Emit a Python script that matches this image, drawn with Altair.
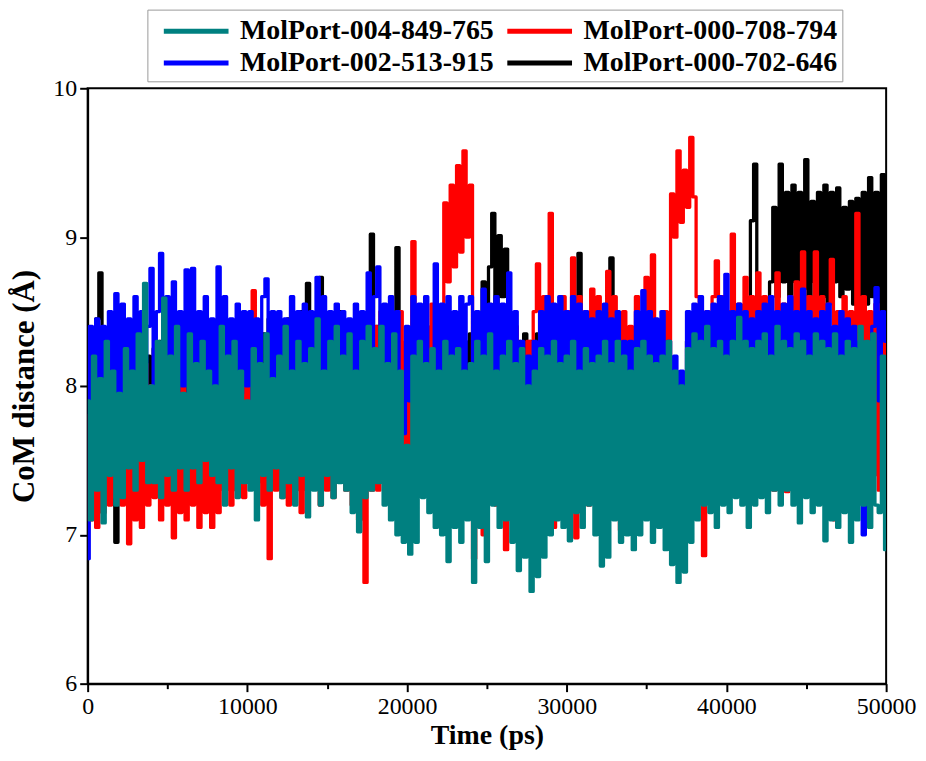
import altair as alt
import pandas as pd

# ---------------- data ----------------
time_ps = list(range(0, 50001, 200))

series_names = ["MolPort-004-849-765", "MolPort-000-708-794",
                "MolPort-002-513-915", "MolPort-000-702-646"]
series_colors = ["#008080", "#ff0000", "#0000ff", "#000000"]

teal = [
    7.9, 7.1, 8.2, 7.3, 8.05, 7.08, 8.3, 7.4, 8.1, 7.2,
    7.95, 7.25, 8.25, 7.45, 8.1, 7.3, 8.35, 7.5, 8.69, 7.35,
    8.0, 7.35, 8.3, 7.25, 8.59, 7.4, 8.2, 7.3, 8.4, 7.45,
    7.95, 7.3, 8.35, 7.45, 8.15, 7.35, 8.3, 7.5, 8.1, 7.4,
    8.0, 7.35, 8.4, 7.2, 8.2, 7.45, 8.3, 7.25, 8.1, 7.35,
    7.9, 7.3, 8.25, 7.1, 8.15, 7.4, 8.35, 7.3, 8.05, 7.45,
    8.2, 7.25, 8.4, 7.35, 8.1, 7.2, 8.3, 7.4, 8.15, 7.12,
    8.25, 7.3, 8.45, 7.2, 8.1, 7.4, 8.3, 7.25, 8.4, 7.35,
    8.2, 7.3, 8.35, 7.15, 8.1, 7.02, 8.3, 7.25, 8.4, 7.3,
    8.25, 7.35, 8.4, 7.2, 8.15, 7.1, 8.35, 7.0, 8.1, 6.95,
    7.6, 6.87, 8.2, 6.95, 8.3, 7.25, 8.15, 7.15, 8.25, 7.05,
    8.1, 7.0, 8.3, 6.82, 8.2, 7.05, 8.25, 6.95, 8.1, 7.1,
    8.15, 6.68, 8.3, 7.05, 8.2, 6.82, 8.35, 7.2, 8.1, 7.05,
    8.2, 7.1, 8.3, 6.95, 8.15, 6.76, 8.25, 6.85, 8.0, 6.62,
    8.1, 6.72, 8.25, 6.85, 8.2, 7.0, 8.3, 7.1, 8.15, 7.05,
    8.2, 6.96, 8.3, 7.15, 8.1, 7.05, 8.25, 7.2, 8.15, 7.0,
    8.2, 6.79, 8.3, 6.85, 8.15, 7.1, 8.3, 6.95, 8.2, 7.0,
    8.1, 6.9, 8.25, 7.0, 8.3, 7.1, 8.2, 6.95, 8.15, 7.05,
    8.2, 6.9, 8.3, 6.8, 8.1, 6.68, 8.0, 6.75, 8.25, 6.95,
    8.35, 7.1, 8.3, 7.2, 8.4, 7.15, 8.25, 7.05, 8.3, 7.2,
    8.2, 7.15, 8.3, 7.25, 8.46, 7.2, 8.3, 7.05, 8.25, 7.2,
    8.3, 7.25, 8.35, 7.15, 8.2, 7.3, 8.4, 7.2, 8.3, 7.3,
    8.25, 7.2, 8.35, 7.08, 8.3, 7.25, 8.2, 7.15, 8.35, 7.2,
    8.3, 6.96, 8.25, 7.1, 8.35, 7.05, 8.2, 7.15, 8.3, 6.95,
    8.25, 7.1, 8.4, 7.2, 8.3, 7.05, 8.35, 7.2, 7.15, 8.2,
    6.9,
]

red = [
    7.8, 7.1, 8.1, 7.05, 7.9, 7.15, 8.2, 7.2, 7.95, 7.25,
    8.1, 7.2, 8.0, 6.94, 8.2, 7.1, 7.9, 7.05, 8.15, 7.2,
    8.0, 7.25, 8.2, 7.1, 7.95, 7.2, 8.1, 6.98, 8.05, 7.15,
    8.2, 7.1, 7.9, 7.2, 8.1, 7.05, 8.0, 7.15, 8.2, 7.05,
    7.95, 7.15, 8.15, 7.3, 8.0, 7.2, 8.25, 7.3, 8.1, 7.25,
    8.2, 7.4, 8.64, 7.35, 8.1, 7.2, 8.0, 6.84, 8.15, 7.3,
    8.2, 7.25, 8.3, 7.2, 8.1, 7.3, 8.45, 7.15, 8.2, 7.3,
    8.3, 7.35, 8.5, 7.2, 8.2, 7.3, 8.35, 7.25, 8.1, 7.4,
    8.2, 7.3, 8.4, 7.2, 8.3, 7.1, 7.3, 6.68, 8.2, 7.3,
    8.4, 7.3, 8.5, 7.4, 8.3, 7.25, 8.45, 7.35, 8.5, 7.4,
    8.3, 7.5, 8.97, 7.6, 8.5, 7.4, 8.4, 7.5, 8.55, 7.6,
    8.4, 7.6, 9.23, 8.7, 9.35, 8.8, 9.48, 8.9, 9.58, 9.0,
    9.35, 6.84, 8.3, 7.1, 7.0, 8.4, 7.3, 8.2, 7.2, 8.5,
    7.9, 6.9, 8.3, 7.2, 8.4, 7.3, 8.2, 7.2, 8.3, 7.15,
    8.5, 8.82, 7.4, 8.6, 7.3, 9.16, 7.05, 8.5, 7.3, 8.6,
    7.4, 8.5, 8.86, 6.98, 8.6, 7.3, 8.5, 7.2, 8.65, 7.3,
    8.6, 7.3, 8.5, 8.77, 7.4, 8.6, 7.2, 7.03, 8.5, 7.3,
    8.4, 7.3, 8.6, 7.4, 7.5, 8.73, 7.3, 8.88, 7.4, 7.1,
    7.1, 8.5, 7.8, 9.29, 9.0, 9.58, 9.1, 9.45, 9.2, 9.67,
    9.27, 8.6, 7.5, 6.86, 8.5, 7.3, 8.6, 8.84, 7.4, 8.6,
    7.4, 8.5, 9.02, 7.35, 8.55, 7.4, 8.73, 7.3, 8.6, 7.4,
    8.76, 7.35, 8.6, 7.4, 8.5, 7.3, 8.76, 7.45, 8.55, 7.29,
    8.6, 7.4, 8.7, 7.35, 8.9, 7.5, 8.6, 7.4, 8.9, 7.3,
    8.6, 7.4, 8.55, 8.85, 7.1, 8.5, 7.35, 8.6, 7.3, 8.5,
    7.4, 9.16, 7.35, 8.6, 7.3, 8.5, 7.4, 8.55, 7.3, 8.4,
    8.0,
]

blue = [
    6.84, 8.4, 7.8, 8.45, 7.9, 8.4, 7.85, 8.5, 7.95, 8.62,
    7.9, 8.55, 7.85, 8.45, 8.0, 8.6, 7.9, 8.5, 7.95, 8.4,
    8.79, 7.9, 8.5, 8.89, 7.95, 8.6, 7.85, 8.7, 7.95, 8.5,
    8.0, 8.78, 7.9, 8.79, 7.95, 8.5, 7.85, 8.6, 7.9, 8.45,
    7.95, 8.8, 7.85, 8.6, 7.9, 8.45, 7.8, 8.55, 7.95, 8.5,
    8.0, 8.5, 7.9, 8.45, 7.85, 8.6, 8.72, 7.9, 8.5, 7.95,
    8.5, 7.9, 8.45, 7.85, 8.6, 7.95, 8.5, 7.9, 8.55, 7.85,
    8.5, 7.9, 8.73, 7.95, 8.6, 7.85, 8.5, 7.9, 8.55, 7.95,
    8.5, 7.85, 8.45, 7.9, 8.55, 7.95, 8.5, 7.9, 8.76, 7.95,
    8.6, 8.8, 7.9, 8.55, 7.95, 8.6, 7.85, 8.5, 7.9, 7.68,
    8.4, 7.9, 8.6, 7.95, 8.55, 7.85, 8.6, 7.9, 7.95, 8.82,
    7.9, 8.55, 7.95, 8.6, 7.76, 8.5, 7.9, 8.6, 7.95, 8.55,
    8.6, 7.9, 8.5, 7.95, 8.65, 7.85, 8.55, 7.9, 8.6, 7.95,
    8.55, 7.9, 8.76, 7.95, 8.5, 7.7, 8.3, 7.57, 8.2, 7.6,
    8.3, 7.57, 8.5, 7.85, 8.6, 7.9, 8.55, 7.95, 8.6, 7.9,
    8.5, 7.9, 8.6, 7.85, 8.55, 7.95, 8.5, 7.9, 8.45, 7.85,
    8.5, 7.9, 8.55, 7.95, 8.45, 7.85, 8.5, 7.8, 8.3, 7.59,
    8.3, 7.85, 8.5, 7.9, 8.64, 7.95, 8.5, 7.85, 8.45, 7.9,
    8.5, 7.9, 8.3, 7.7, 8.2, 7.7, 8.1, 7.75, 8.5, 7.9,
    8.55, 7.95, 8.6, 7.9, 8.5, 7.85, 8.55, 7.9, 8.6, 7.95,
    8.75, 7.9, 8.5, 7.95, 8.55, 7.85, 8.5, 7.9, 8.45, 7.95,
    8.5, 7.9, 8.55, 7.85, 8.6, 7.95, 8.5, 7.9, 8.55, 7.85,
    8.6, 7.9, 8.5, 7.95, 8.65, 7.85, 8.5, 7.9, 8.45, 7.95,
    8.5, 7.9, 8.55, 7.85, 8.4, 7.8, 8.5, 7.9, 8.45, 7.85,
    8.4, 7.8, 8.3, 7.0, 8.2, 7.26, 8.4, 8.66, 7.9, 8.5,
    8.3,
]

black = [
    7.9, 8.3, 7.5, 8.45, 8.76, 7.4, 8.2, 7.3, 8.1, 6.95,
    7.5, 8.25, 7.4, 8.3, 7.5, 8.15, 7.35, 8.3, 7.5, 8.2,
    7.45, 8.25, 7.5, 8.3, 7.4, 8.2, 7.5, 8.15, 7.45, 8.3,
    7.5, 8.35, 7.4, 8.2, 7.5, 8.3, 7.35, 8.25, 7.45, 8.3,
    7.5, 8.3, 7.45, 8.2, 7.5, 8.25, 7.4, 8.35, 7.5, 8.2,
    7.45, 8.3, 7.5, 8.25, 7.4, 8.35, 7.5, 8.45, 7.45, 8.3,
    7.5, 8.35, 7.4, 8.45, 7.5, 8.3, 7.45, 8.5, 7.5, 8.69,
    7.45, 8.4, 7.5, 8.73, 7.4, 8.35, 7.5, 8.45, 7.45, 8.5,
    7.5, 8.4, 7.4, 8.3, 7.5, 8.45, 7.45, 8.35, 7.5, 9.02,
    7.45, 8.4, 7.5, 8.3, 7.4, 8.45, 7.5, 8.93, 7.45, 7.37,
    8.3, 7.5, 8.4, 7.45, 8.35, 7.4, 8.3, 7.5, 8.4, 7.45,
    8.35, 7.4, 8.3, 7.5, 8.4, 7.45, 8.35, 7.5, 8.3, 7.4,
    8.35, 7.5, 8.45, 7.45, 8.7, 8.2, 8.8, 9.16, 8.5, 9.01,
    8.6, 8.92, 7.9, 8.4, 7.45, 8.3, 7.5, 8.35, 7.4, 8.3,
    7.5, 8.35, 7.45, 8.3, 7.4, 8.4, 7.5, 8.3, 7.45, 8.35,
    7.5, 8.4, 7.45, 8.35, 8.89, 7.5, 8.3, 7.4, 8.35, 7.45,
    8.3, 7.5, 8.4, 7.45, 8.86, 7.4, 8.35, 7.45, 8.3, 7.5,
    8.35, 7.45, 8.3, 7.4, 8.35, 7.5, 8.3, 7.45, 8.4, 7.4,
    8.3, 7.5, 8.2, 7.59, 7.9, 7.59, 8.0, 7.6, 8.3, 7.5,
    8.35, 7.45, 8.3, 7.4, 8.35, 7.5, 8.3, 7.45, 8.4, 7.4,
    8.3, 7.32, 8.25, 7.45, 8.35, 7.5, 8.3, 7.8, 9.11, 9.49,
    8.6, 8.2, 8.5, 8.3, 8.7, 9.2, 8.6, 9.49, 8.7, 9.3,
    8.6, 9.35, 8.7, 9.3, 8.65, 9.52, 8.6, 9.24, 8.7, 9.3,
    8.6, 9.35, 8.55, 9.3, 8.7, 9.33, 8.6, 9.2, 8.65, 9.24,
    8.55, 9.26, 8.6, 9.3, 8.55, 9.4, 8.6, 9.3, 8.5, 9.42,
    8.5,
]

# drawing order: black at the bottom, teal on top
draw_order = [
    (series_names[3], black),
    (series_names[1], red),
    (series_names[2], blue),
    (series_names[0], teal),
]

SERIF = "Liberation Serif"

x_enc = alt.X(
    "time:Q",
    title="Time (ps)",
    scale=alt.Scale(domain=[0, 50000], nice=False, zero=False),
    axis=alt.Axis(
        values=list(range(0, 50001, 5000)),
        format="d",
        labelExpr="datum.value % 10000 === 0 ? datum.label : ''",
        tickSize={"condition": {"test": "datum.value % 10000 === 0", "value": 8}, "value": 5},
        labelFlush=False,
        labelOverlap=False,
        labelPadding=3,
        titlePadding=3,
        titleFontSize=28,
    ),
)
y_enc = alt.Y(
    "dist:Q",
    title="CoM distance (Å)",
    scale=alt.Scale(domain=[6, 10], nice=False, zero=False),
    axis=alt.Axis(
        values=[6, 6.5, 7, 7.5, 8, 8.5, 9, 9.5, 10],
        format="d",
        labelExpr="datum.value % 1 === 0 ? datum.label : ''",
        tickSize={"condition": {"test": "datum.value % 1 === 0", "value": 8}, "value": 5},
        labelFlush=False,
        labelOverlap=False,
        labelPadding=3,
        titlePadding=12,
        titleFontSize=31,
    ),
)
color_enc = alt.Color(
    "series:N",
    title=None,
    scale=alt.Scale(domain=series_names, range=series_colors),
    legend=alt.Legend(
        orient="none",
        legendX=60,
        legendY=-79,
        direction="horizontal",
        columns=2,
        symbolType="M-0.333,0H4",
        symbolSize=900,
        symbolStrokeWidth=5,
        labelFont=SERIF,
        labelFontSize=28,
        labelFontWeight="bold",
        labelColor="black",
        labelLimit=500,
        labelOffset=54,
        columnPadding=-8,
        rowPadding=-2,
        padding=4,
        strokeColor="#999999",
        fillColor="white",
    ),
)

layers = []
for name, vals in draw_order:
    df = pd.DataFrame({"time": time_ps, "dist": vals, "series": name})
    layers.append(
        alt.Chart(df)
        .mark_line(strokeWidth=3.3, interpolate="step", strokeJoin="round", clip=True)
        .encode(x=x_enc, y=y_enc, color=color_enc)
    )

chart = (
    alt.layer(*layers)
    .properties(
        width=802,
        height=598,
        autosize=alt.AutoSizeParams(type="none"),
        padding={"left": 80, "top": 79, "right": 32, "bottom": 66},
        background="white",
    )
    .configure_view(stroke="black", strokeWidth=2)
    .configure_axis(
        grid=False,
        domainColor="black",
        domainWidth=2,
        tickColor="black",
        tickWidth=2,
        labelFont=SERIF,
        labelFontSize=24,
        labelColor="black",
        titleFont=SERIF,
        titleFontWeight="bold",
        titleColor="black",
    )
)

chart.save("out.html", embed_options={"renderer": "svg", "actions": False})
